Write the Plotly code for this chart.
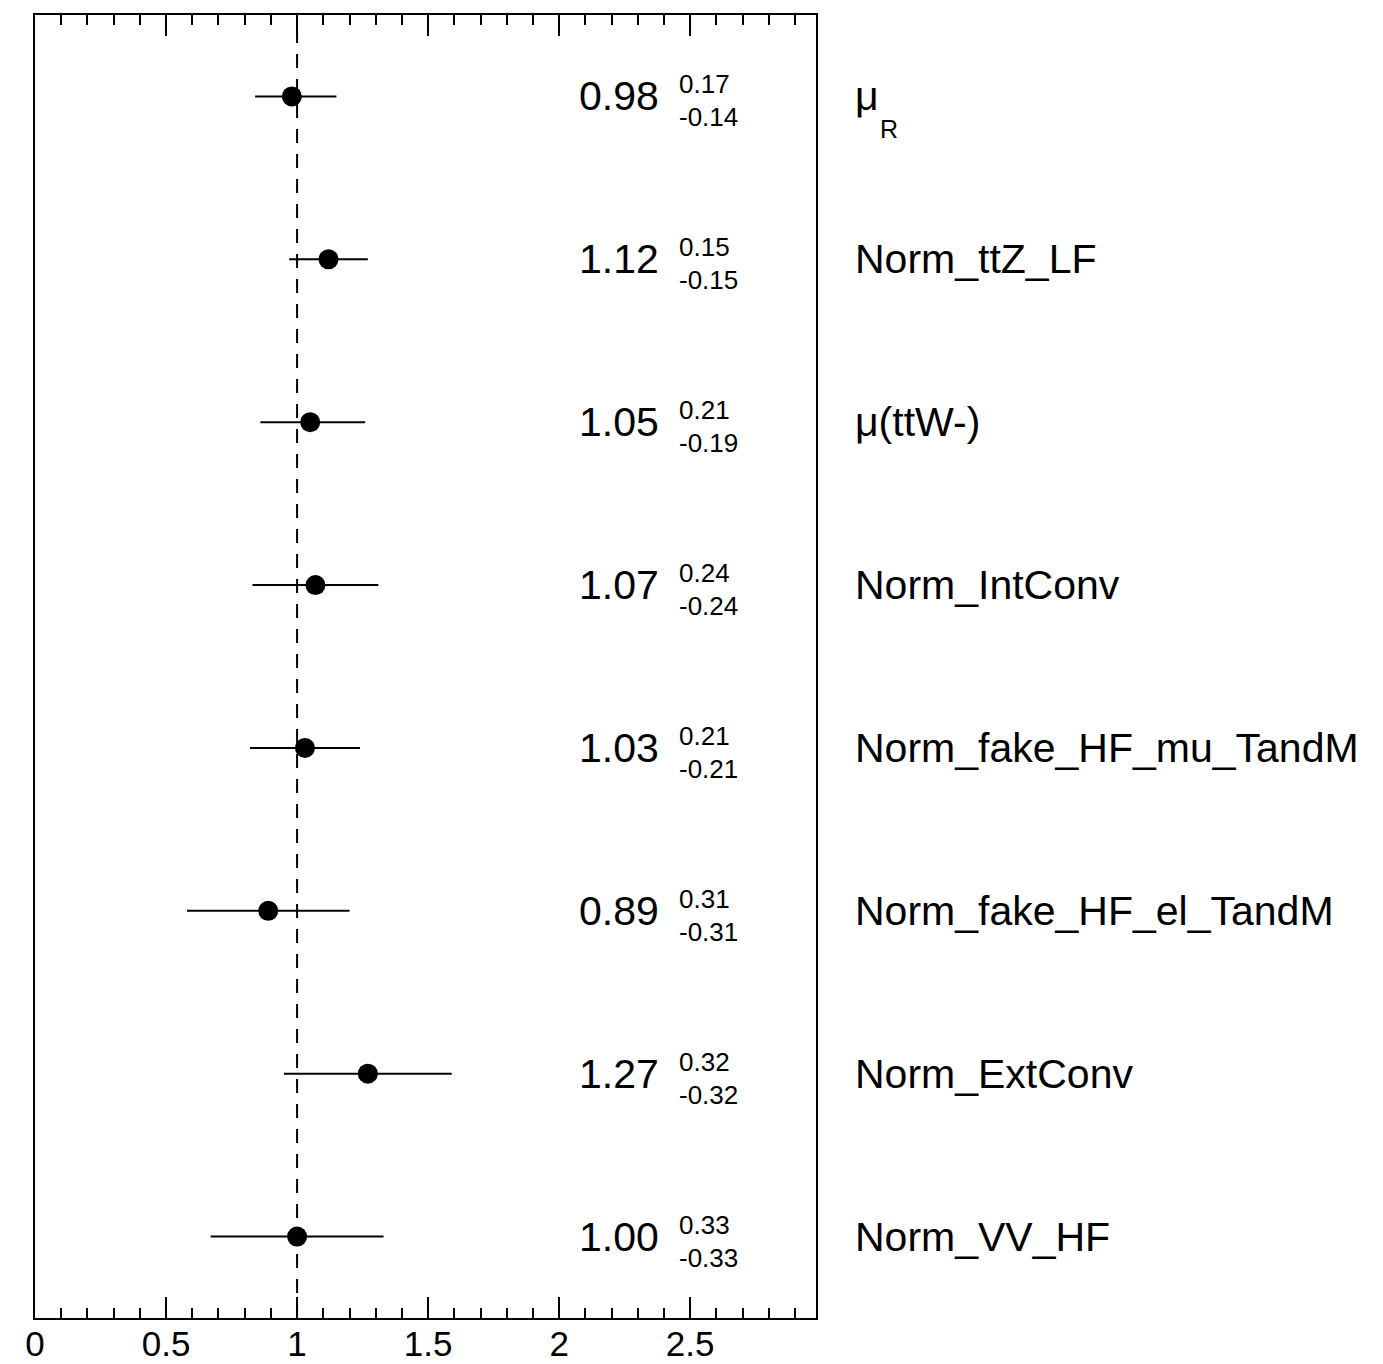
import plotly.graph_objects as go

# Fitted normalisation factors (top to bottom) with asymmetric uncertainties
names = ["μ", "Norm_ttZ_LF", "μ(ttW-)", "Norm_IntConv", "Norm_fake_HF_mu_TandM",
         "Norm_fake_HF_el_TandM", "Norm_ExtConv", "Norm_VV_HF"]
name_sub = ["R", "", "", "", "", "", "", ""]
values = [0.98, 1.12, 1.05, 1.07, 1.03, 0.89, 1.27, 1.00]
err_up = [0.17, 0.15, 0.21, 0.24, 0.21, 0.31, 0.32, 0.33]
err_down = [0.14, 0.15, 0.19, 0.24, 0.21, 0.31, 0.32, 0.33]

x_tickvals = [0, 0.5, 1, 1.5, 2, 2.5]
x_ticktext = ["0", "0.5", "1", "1.5", "2", "2.5"]
x_range = [0, 2.98]
ref_value = 1.0

FONT = "Liberation Sans, Arial, Helvetica, sans-serif"
W, H = 1383, 1364
n = len(values)
ypos = [i + 0.5 for i in range(n)]


def to_paper(xv):
    return (xv - x_range[0]) / (x_range[1] - x_range[0])


fig = go.Figure()
fig.add_trace(go.Scatter(
    x=values, y=ypos, mode="markers",
    marker=dict(color="black", size=20, symbol="circle"),
    error_x=dict(type="data", symmetric=False, array=err_up, arrayminus=err_down,
                 color="black", thickness=2, width=0),
    showlegend=False, hoverinfo="skip",
))

# reference line at 1
fig.add_shape(type="line", xref="x", yref="paper", x0=ref_value, x1=ref_value, y0=0, y1=1,
              line=dict(color="black", width=2, dash="14px,11px"), layer="below")

ann = []
val_x = 2.39
err_x = 2.45
lab_x = 3.12
for i in range(n):
    y = ypos[i]
    ann.append(dict(x=val_x, y=y, xref="x", yref="y", text=f"{values[i]:.2f}",
                    xanchor="right", yanchor="middle", showarrow=False,
                    font=dict(family=FONT, size=41, color="black")))
    ann.append(dict(x=err_x, y=y, xref="x", yref="y", text=f"{err_up[i]:.2f}",
                    xanchor="left", yanchor="middle", yshift=12, showarrow=False,
                    font=dict(family=FONT, size=26, color="black")))
    ann.append(dict(x=err_x, y=y, xref="x", yref="y", text=f"-{err_down[i]:.2f}",
                    xanchor="left", yanchor="middle", yshift=-21, showarrow=False,
                    font=dict(family=FONT, size=26, color="black")))
    ann.append(dict(x=to_paper(lab_x), y=y, xref="paper", yref="y", text=names[i],
                    xanchor="left", yanchor="middle", showarrow=False,
                    font=dict(family=FONT, size=41, color="black")))
    if name_sub[i]:
        ann.append(dict(x=to_paper(lab_x + 0.095), y=y, xref="paper", yref="y",
                        text=name_sub[i], xanchor="left", yanchor="middle",
                        yshift=-33, showarrow=False,
                        font=dict(family=FONT, size=25, color="black")))

fig.update_layout(
    width=W, height=H,
    margin=dict(l=35, r=W - 816, t=15, b=H - 1318),
    paper_bgcolor="white", plot_bgcolor="white",
    annotations=ann,
    showlegend=False,
    xaxis=dict(
        range=x_range, showgrid=False, zeroline=False, automargin=False,
        showline=True, linecolor="black", linewidth=2, mirror="allticks",
        ticks="inside", ticklen=21, tickwidth=2, tickcolor="black",
        tickvals=x_tickvals, ticktext=x_ticktext, ticklabelstandoff=-6,
        tickfont=dict(family=FONT, size=35, color="black"),
        minor=dict(ticks="inside", dtick=0.1, tick0=0, ticklen=10, tickwidth=2,
                   tickcolor="black", showgrid=False),
    ),
    yaxis=dict(
        range=[n, 0], showgrid=False, zeroline=False, automargin=False,
        showline=True, linecolor="black", linewidth=2, mirror=True,
        showticklabels=False, ticks="",
    ),
)

fig.write_html("out.html")
